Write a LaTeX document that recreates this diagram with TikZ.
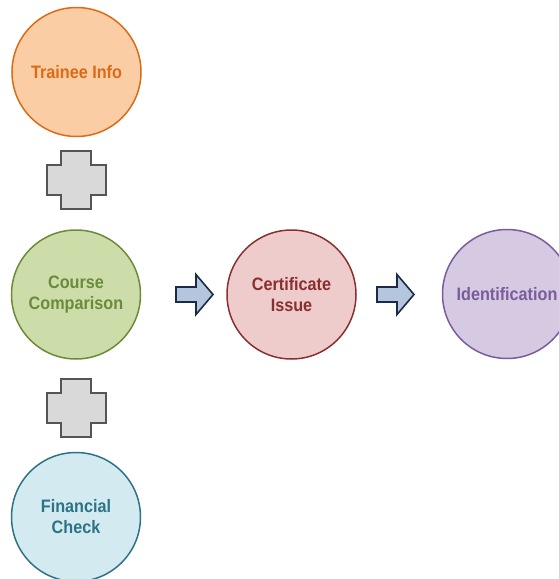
\documentclass[tikz,border=0pt]{standalone}
\usepackage{fontspec}
\setmainfont{Liberation Sans}
\newfontfamily\stagefont[FakeStretch=0.9]{Liberation Sans Bold}
\definecolor{infofill}{HTML}{FACDA5}
\definecolor{infoedge}{HTML}{DB6B16}
\definecolor{coursefill}{HTML}{CDDDAA}
\definecolor{courseedge}{HTML}{6B8A3A}
\definecolor{certfill}{HTML}{EFCCCC}
\definecolor{certedge}{HTML}{8A2F2F}
\definecolor{identfill}{HTML}{D6CAE2}
\definecolor{identedge}{HTML}{7A5C9C}
\definecolor{finfill}{HTML}{D3EBF0}
\definecolor{finedge}{HTML}{2D7385}
\definecolor{plusgray}{HTML}{D9D9D9}
\definecolor{plusedge}{HTML}{555555}
\definecolor{arrowfill}{HTML}{B3C6DD}
\definecolor{arrowedge}{HTML}{1A2B45}
\begin{document}
\begin{tikzpicture}[x=1pt, y=-1pt,
    stage/.style={circle, line width=1.5pt, minimum size=129pt, inner sep=0pt,
      align=center, font=\stagefont\fontsize{18}{21}\selectfont},
    plusbox/.style={fill=plusgray, draw=plusedge, line width=2pt},
    arrowbox/.style={fill=arrowfill, draw=arrowedge, line width=1.6pt, line join=miter}]
    \useasboundingbox (0,0) rectangle (559,579);
    \clip (0,0) rectangle (559,579);

    % Stages
    \node[stage, fill=infofill, draw=infoedge, text=infoedge] (info) at (76.5,72) {Trainee Info};
    \node[stage, fill=coursefill, draw=courseedge, text=courseedge] (course) at (76,294.5) {Course\\Comparison};
    \node[stage, fill=finfill, draw=finedge, text=finedge] (fin) at (76,517) {Financial\\Check};
    \node[stage, fill=certfill, draw=certedge, text=certedge] (cert) at (291.5,294.5) {Certificate\\Issue};
    \node[stage, fill=identfill, draw=identedge, text=identedge] (ident) at (507,294) {Identification};

    % Plus signs
    \foreach \cy in {180,408}
      \draw[plusbox, shift={(76,\cy)}] (-15,-29) -- (15,-29) -- (15,-15) -- (29.5,-15)
        -- (29.5,15) -- (15,15) -- (15,29) -- (-15,29) -- (-15,15) -- (-29.5,15)
        -- (-29.5,-15) -- (-15,-15) -- cycle;

    % Arrows
    \foreach \ax in {176,377}
      \draw[arrowbox, shift={(\ax,294.5)}] (0,-7.5) -- (20,-7.5) -- (20,-20) -- (37,0)
        -- (20,20) -- (20,7.5) -- (0,7.5) -- cycle;
\end{tikzpicture}
\end{document}
